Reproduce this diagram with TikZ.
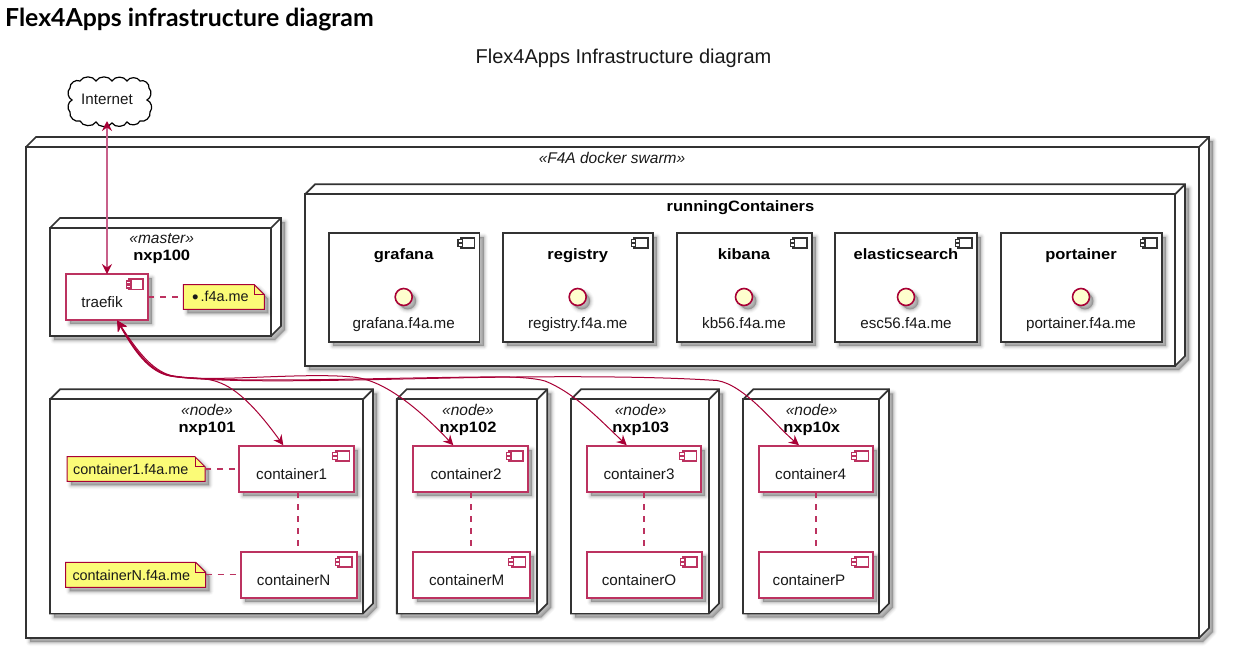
\documentclass[tikz,border=0pt]{standalone}
\usepackage{fontspec}
\setmainfont{Liberation Sans}
\newfontfamily\headfont{Lato}
\newfontfamily\widefont[FakeStretch=1.1]{Liberation Sans}
\usetikzlibrary{arrows.meta,calc}
\definecolor{crim}{HTML}{A80036}
\definecolor{crimsoft}{HTML}{BC3260}
\definecolor{crimpale}{HTML}{C8608A}
\definecolor{notefill}{HTML}{FBFB77}
\definecolor{ifill}{HTML}{FEFECE}
\definecolor{edge}{HTML}{333333}
\tikzset{
  softshadow/.style={
    preaction={draw=black,line width=8pt,line join=round,draw opacity=.025,transform canvas={xshift=4pt,yshift=-4pt}},
    preaction={draw=black,line width=6pt,line join=round,draw opacity=.04,transform canvas={xshift=4pt,yshift=-4pt}},
    preaction={draw=black,line width=4pt,line join=round,draw opacity=.06,transform canvas={xshift=4pt,yshift=-4pt}},
    preaction={draw=black,line width=2pt,line join=round,draw opacity=.08,transform canvas={xshift=4pt,yshift=-4pt}},
    preaction={fill=black,fill opacity=.26,transform canvas={xshift=4pt,yshift=-4pt}}},
  blockbox/.style={rectangle,draw=#1,fill=white,line width=1.7pt,inner sep=0pt,outer sep=0pt},
  nodeline/.style={draw=edge,line width=1.7pt,line join=miter},
  regular/.style={font=\fontsize{15.2}{15}\selectfont,inner sep=0pt,text=black!90},
  bolder/.style={font=\fontsize{15}{15}\widefont\bfseries,inner sep=0pt,text=black},
  slanted/.style={font=\fontsize{15.5}{15}\selectfont\itshape,inner sep=0pt,text=black!90},
  notetext/.style={font=\fontsize{14.4}{15}\selectfont,inner sep=0pt,text=black!90},
  link/.style={draw=crim,line width=1pt,{Stealth[length=10pt,width=10pt,inset=3.5pt]}-{Stealth[length=10pt,width=10pt,inset=3.5pt]}},
  softlink/.style={draw=crimpale,line width=1.3pt,{Stealth[length=10pt,width=10pt,inset=3.5pt,crim]}-{Stealth[length=10pt,width=10pt,inset=3.5pt,crim]}},
  dashlink/.style={draw=crimsoft,line width=1.1pt,dash pattern=on 6pt off 6pt},
}
% name x1 y1 x2 y2 : three-dimensional box
\newcommand\deploybox[5]{%
  \path[fill=white,nodeline,softshadow] (#2,#3) -- ({#2+10},{#3-10}) -- ({#4+10},{#3-10}) -- ({#4+10},{#5-10}) -- (#4,#5) -- (#2,#5) -- cycle;
  \node[blockbox=edge,minimum width={#4pt-#2pt},minimum height={#5pt-#3pt}] (#1) at ({(#2+#4)/2},{(#3+#5)/2}) {};
  \draw[nodeline] (#4,#3) -- ({#4+10},{#3-10});
}
% name x1 y1 x2 y2 colour : component box with its icon
\newcommand\partbox[6]{%
  \node[blockbox=#6,softshadow,minimum width={#4pt-#2pt},minimum height={#5pt-#3pt}] (#1) at ({(#2+#4)/2},{(#3+#5)/2}) {};
  \draw[draw=#6,fill=white,line width=1.6pt] ({#4-19},{#3+5}) rectangle ({#4-5},{#3+15.5});
  \draw[draw=#6,fill=white,line width=1.3pt] ({#4-21.5},{#3+7}) rectangle ({#4-17},{#3+10});
  \draw[draw=#6,fill=white,line width=1.3pt] ({#4-21.5},{#3+11}) rectangle ({#4-17},{#3+14});
}
% name x1 y1 x2 y2 : note with folded corner
\newcommand\notebox[5]{%
  \node[inner sep=0pt,outer sep=0pt,minimum width={#4pt-#2pt},minimum height={#5pt-#3pt}] (#1) at ({(#2+#4)/2},{(#3+#5)/2}) {};
  \path[draw=crim,fill=notefill,line width=1pt,softshadow] (#2,#3) -- ({#4-10},#3) -- (#4,{#3+10}) -- (#4,#5) -- (#2,#5) -- cycle;
  \draw[crim,line width=1pt] ({#4-10},#3) -- ({#4-10},{#3+10}) -- (#4,{#3+10});
}
% name centre-x : interface lollipop
\newcommand\lollipop[2]{%
  \node[circle,draw=crim,fill=ifill,line width=1.6pt,minimum size=17pt,inner sep=0pt,outer sep=0pt,softshadow] (#1) at (#2,297) {};
}
\begin{document}
\begin{tikzpicture}[x=1pt,y=-1pt]
\useasboundingbox[fill=white] (0,0) rectangle (1238,670);
\node[anchor=base west,inner sep=0pt,font=\fontsize{24.8}{25}\headfont\bfseries] (heading) at (5,26) {Flex4Apps infrastructure diagram};
\node[anchor=base,inner sep=0pt,font=\fontsize{20}{20}\selectfont,text=black!90] (subtitle) at (623.5,63) {Flex4Apps Infrastructure diagram};

% cloud
\path[draw=black,fill=white,line width=1.2pt] (70,88)
  to[bend left=62] (80,81) to[bend left=62] (96,81) to[bend left=62] (112,81) to[bend left=62] (127,81) to[bend left=62] (140,81)
  to[bend left=62] (149,88) to[bend left=55] (147,100) to[bend left=55] (150,112)
  to[bend left=62] (140,121) to[bend left=62] (127,122) to[bend left=62] (112,123) to[bend left=62] (96,122) to[bend left=62] (80,121)
  to[bend left=62] (70,112) to[bend left=55] (72,100) to[bend left=55] (70,88) -- cycle;
\node[regular,minimum height=44pt,minimum width=80pt,outer sep=0pt] (internet) at (107,99) {Internet};

% swarm
\deploybox{swarm}{26}{147}{1199}{638}
\node[slanted,anchor=base] (swarmlabel) at (612,163) {«F4A docker swarm»};

% running containers
\deploybox{running}{305}{194.3}{1175}{366}
\node[bolder,anchor=base] (runninglabel) at (740.5,211) {runningContainers};
\partbox{grafana}{329}{232.7}{479.5}{342}{edge}
\partbox{registry}{502.7}{232.7}{652.7}{342}{edge}
\partbox{kibana}{676.7}{232.7}{811.7}{342}{edge}
\partbox{elastic}{834.7}{232.7}{976.7}{342}{edge}
\partbox{portainer}{1000.7}{232.7}{1162}{342}{edge}
\node[bolder,anchor=base] (grafanat) at (403.7,259) {grafana};
\node[bolder,anchor=base] (registryt) at (577.7,259) {registry};
\node[bolder,anchor=base] (kibanat) at (744,259) {kibana};
\node[bolder,anchor=base] (elastict) at (906,259) {elasticsearch};
\node[bolder,anchor=base] (portainert) at (1081,259) {portainer};
\lollipop{igrafana}{403.7}
\lollipop{iregistry}{577.7}
\lollipop{ikibana}{744}
\lollipop{ielastic}{906}
\lollipop{iportainer}{1081}
\node[regular,anchor=base] (grafanau) at (403.7,328) {grafana.f4a.me};
\node[regular,anchor=base] (registryu) at (577.7,328) {registry.f4a.me};
\node[regular,anchor=base] (kibanau) at (744,328) {kb56.f4a.me};
\node[regular,anchor=base] (elasticu) at (906,328) {esc56.f4a.me};
\node[regular,anchor=base] (portaineru) at (1081,328) {portainer.f4a.me};

% nxp100
\deploybox{nxpa}{50}{228}{271}{336}
\node[slanted,anchor=base] (nxpam) at (161.7,243.5) {«master»};
\node[bolder,anchor=base] (nxpal) at (161.7,260) {nxp100};
\partbox{traefik}{65.7}{274}{148}{320}{crimsoft}
\node[regular,anchor=base] (traefikt) at (102,307.5) {traefik};
\notebox{tnote}{183.3}{284.7}{264.3}{309.3}
\node[notetext,anchor=base west] (tnotet) at (192,301.7) {{\fontsize{18.5}{15}\selectfont\raisebox{-1.4pt}{•}}\hspace{2pt}.f4a.me};

% nxp101
\deploybox{nxpb}{50}{399.3}{363}{613.5}
\node[slanted,anchor=base] (nxpbm) at (207,415.7) {«node»};
\node[bolder,anchor=base] (nxpbl) at (207,432) {nxp101};
\partbox{cone}{239.3}{445.7}{354.3}{492.3}{crimsoft}
\partbox{cn}{241}{551.7}{356.7}{598.3}{crimsoft}
\node[regular,anchor=base] (conet) at (291.7,479) {container1};
\node[regular,anchor=base] (cnt) at (293.7,585.2) {containerN};
\notebox{conenote}{67}{456.7}{205}{481.3}
\node[notetext,anchor=base west] (conenotet) at (73,474) {container1.f4a.me};
\notebox{cnnote}{65.7}{562.3}{205.7}{587.3}
\node[notetext,anchor=base west] (cnnotet) at (72.3,580.2) {containerN.f4a.me};

% nxp102
\deploybox{nxpc}{396.7}{399.3}{537.3}{613.5}
\node[slanted,anchor=base] (nxpcm) at (468,415.7) {«node»};
\node[bolder,anchor=base] (nxpcl) at (468,432) {nxp102};
\partbox{ctwo}{413.3}{445.7}{528}{492.3}{crimsoft}
\partbox{cm}{413.3}{551.7}{530.3}{598.3}{crimsoft}
\node[regular,anchor=base] (ctwot) at (466,479) {container2};
\node[regular,anchor=base] (cmt) at (466.7,585.2) {containerM};

% nxp103
\deploybox{nxpd}{571}{399.3}{709}{613.5}
\node[slanted,anchor=base] (nxpdm) at (640.7,415.7) {«node»};
\node[bolder,anchor=base] (nxpdl) at (640.7,432) {nxp103};
\partbox{cthree}{586.7}{445.7}{701.3}{492.3}{crimsoft}
\partbox{co}{587}{551.7}{702}{598.3}{crimsoft}
\node[regular,anchor=base] (cthreet) at (639,479) {container3};
\node[regular,anchor=base] (cot) at (639,585.2) {containerO};

% nxp10x
\deploybox{nxpe}{743.3}{399.3}{879}{613.5}
\node[slanted,anchor=base] (nxpem) at (811.7,415.7) {«node»};
\node[bolder,anchor=base] (nxpel) at (811.7,432) {nxp10x};
\partbox{cfour}{758.7}{445.7}{873.3}{492.3}{crimsoft}
\partbox{cp}{759}{551.7}{873.3}{598.3}{crimsoft}
\node[regular,anchor=base] (cfourt) at (810.7,479) {container4};
\node[regular,anchor=base] (cpt) at (809,585.2) {containerP};

% dashed links
\draw[dashlink] (traefik.east |- tnote.west) -- (tnote.west);
\draw[dashlink] (conenote.east) -- (cone.west |- conenote.east);
\draw[dashlink] (cnnote.east) -- (cn.west |- cnnote.east);
\path (cone.south) ++(1.2,0) coordinate (d1);
\draw[dashlink] (d1) -- (d1 |- cn.north);
\path (ctwo.south) ++(0.3,0) coordinate (d2);
\draw[dashlink] (d2) -- (d2 |- cm.north);
\path (cthree.south) ++(0,0) coordinate (d3);
\draw[dashlink] (d3) -- (d3 |- co.north);
\path (cfour.south) ++(0,0) coordinate (d4);
\draw[dashlink] (d4) -- (d4 |- cp.north);

% arrows
\draw[softlink] (internet.south) -- (internet.south |- traefik.north);
\path (traefik.south) ++(10.5,0.6) coordinate (tf);
\path (cone.north west) ++(44,-0.5) coordinate (e1);
\path (ctwo.north west) ++(40,-0.5) coordinate (e2);
\path (cthree.north west) ++(40,-0.5) coordinate (e3);
\path (cfour.north west) ++(40.3,-0.5) coordinate (e4);
\draw[link] (tf) .. controls (135,350) and (150,371) .. (170,375.5) .. controls (190,380) and (205,375) .. (225,385) .. controls (245,395) and (265,420) .. (e1);
\draw[link] (tf) .. controls (134,351) and (149,372) .. (170,376) .. controls (210,383) and (300,372) .. (353,377) .. controls (385,380) and (420,410) .. (e2);
\draw[link] (tf) .. controls (136,349) and (151,370) .. (171,375.5) .. controls (220,384) and (370,378) .. (480,377) .. controls (510,376) and (535,378) .. (545,381) .. controls (575,393) and (600,420) .. (e3);
\draw[link] (tf) .. controls (135,351) and (150,372) .. (171,376) .. controls (220,384) and (350,380) .. (450,378) .. controls (550,376) and (650,376) .. (717,380.5) .. controls (745,385) and (775,425) .. (e4);
\end{tikzpicture}
\end{document}
